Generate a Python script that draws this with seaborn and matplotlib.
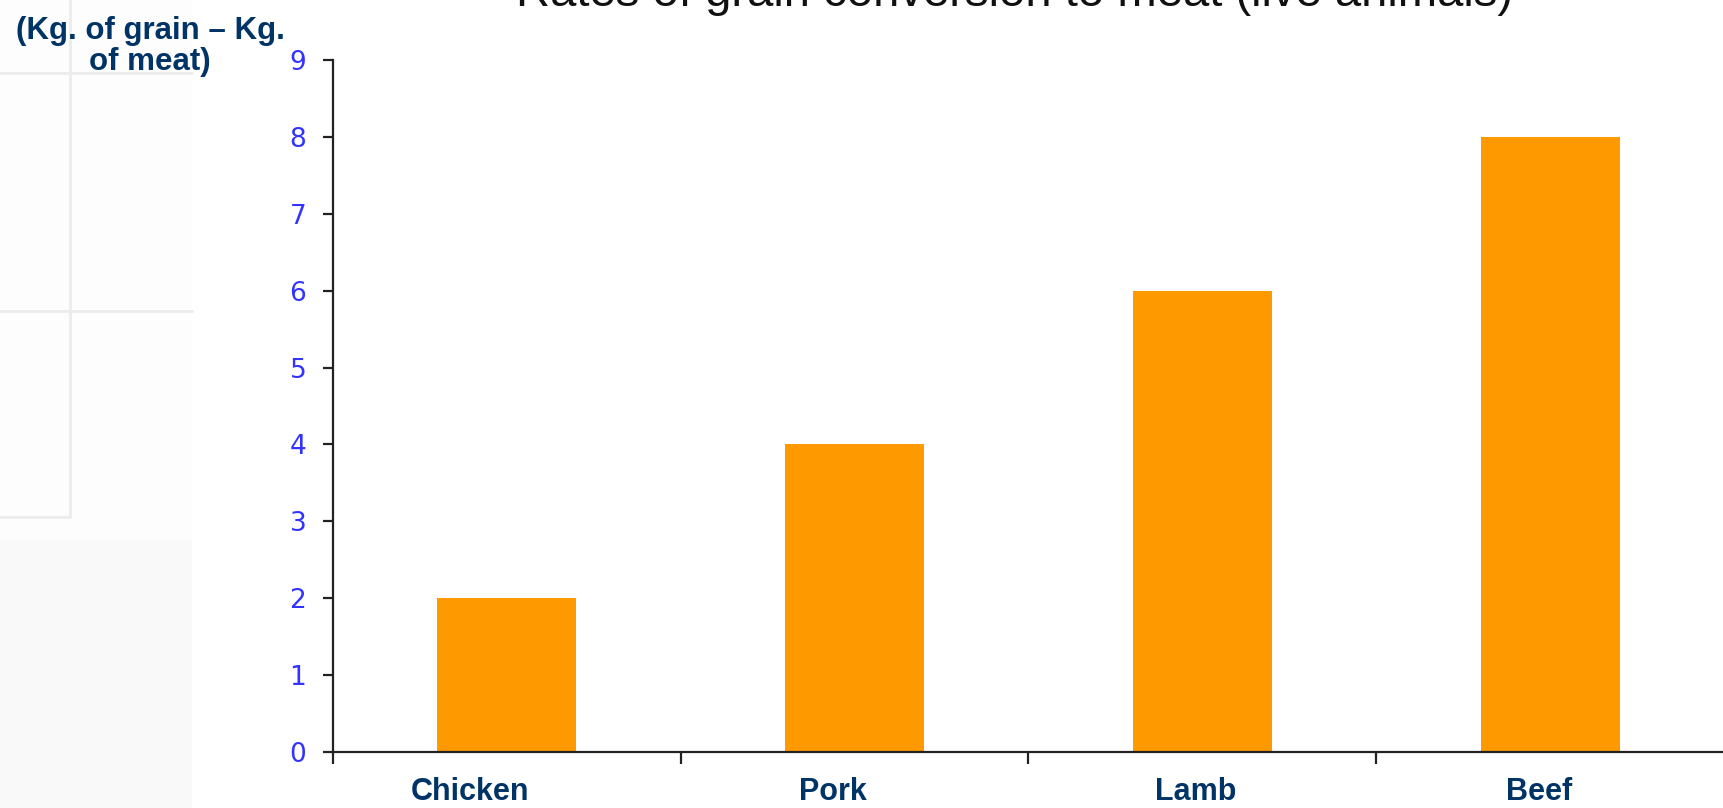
import matplotlib
matplotlib.use("Agg")
import matplotlib.pyplot as plt
import matplotlib.transforms as mtransforms
import seaborn as sns
import pandas as pd
from matplotlib.patches import Rectangle

# data
animals = ["Chicken", "Pork", "Lamb", "Beef"]
kg_grain = [2, 4, 6, 8]
y_ticks = list(range(0, 10))

title = "Rates of grain conversion to meat (live animals)"
ylabel_lines = ["(Kg. of grain \u2013 Kg.", "of meat)"]

# labels in the slide sit a little left of the bar centres (pixels)
label_shift_px = [-37, -22, -7, -11]

navy = "#003366"
tick_blue = "#3333ff"
bar_orange = "#ff9900"

sns.set_style("white")
plt.rcParams["font.family"] = ["Liberation Sans", "DejaVu Sans"]

W, H = 1724, 808
fig = plt.figure(figsize=(W / 100, H / 100), dpi=100)

# faint slide decoration on the left
deco = fig.add_axes([0, 0, 1, 1], zorder=-5)
deco.set_xlim(0, W)
deco.set_ylim(H, 0)
deco.axis("off")
deco.add_patch(Rectangle((0, 0), 192, 808, facecolor="#fdfdfd", edgecolor="none"))
deco.add_patch(Rectangle((0, 540), 192, 268, facecolor="#f9f9f9", edgecolor="none"))
deco.plot([70, 70], [0, 517], color="#ececec", lw=2)
deco.plot([0, 70], [517, 517], color="#ececec", lw=2)
deco.plot([0, 192], [73, 73], color="#ececec", lw=2)
deco.plot([0, 192], [311, 311], color="#ececec", lw=2)

df = pd.DataFrame({"animal": animals, "kg": kg_grain})

ax = fig.add_axes([333 / W, 1 - 752 / H, 1 - 333 / W, (752 - 60) / H])
ax.patch.set_alpha(0)
sns.barplot(data=df, x="animal", y="kg", color=bar_orange, width=0.4,
            saturation=1, ax=ax, edgecolor="none")

ax.set_xlim(-0.5, 3.5)
ax.set_ylim(0, 9)
ax.set_yticks(y_ticks)
ax.set_xlabel("")
ax.set_ylabel("")

for s in ["top", "right"]:
    ax.spines[s].set_visible(False)
for s in ["left", "bottom"]:
    ax.spines[s].set_color("#222222")
    ax.spines[s].set_linewidth(1.6)

ax.tick_params(axis="y", left=True, direction="out", length=7.2, width=1.6,
               color="#222222", pad=12, labelsize=19, labelcolor=tick_blue)
for lbl in ax.get_yticklabels():
    lbl.set_family("DejaVu Sans")

ax.tick_params(axis="x", which="major", bottom=False, length=0, pad=18,
               labelsize=22, labelcolor=navy)
for lbl, dx in zip(ax.get_xticklabels(), label_shift_px):
    lbl.set_fontweight("bold")
    lbl.set_transform(lbl.get_transform() +
                      mtransforms.ScaledTranslation(dx / 100, 0, fig.dpi_scale_trans))
ax.set_xticks([-0.5, 0.5, 1.5, 2.5], minor=True)
ax.tick_params(axis="x", which="minor", bottom=True, direction="out", length=8.6,
               width=1.6, color="#222222")

# title (cut at the top edge as in the slide)
fig.text(1015 / W, 1 - 6 / H, title, ha="center", va="baseline", fontsize=34, color="#111111")

# y-axis caption
fig.text(150 / W, 1 - 39 / H, ylabel_lines[0], ha="center", va="baseline",
         fontsize=22.5, fontweight="bold", color=navy)
fig.text(150 / W, 1 - 70 / H, ylabel_lines[1], ha="center", va="baseline",
         fontsize=22.5, fontweight="bold", color=navy)

fig.savefig("out.png", dpi=100)
